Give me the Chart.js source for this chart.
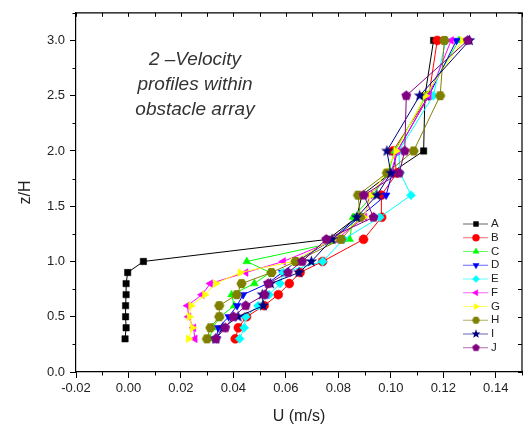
<!DOCTYPE html>
<html>
<head>
<meta charset="utf-8">
<script src="https://cdn.jsdelivr.net/npm/chart.js@4/dist/chart.umd.min.js"></script>
<style>
  html, body { margin: 0; padding: 0; background: #fff; }
  #wrap { position: relative; width: 527px; height: 426px; }
  #grafico { display: block; }
  #nota {
    position: absolute; left: 95px; top: 46px; width: 200px;
    text-align: center; font: italic 19px "Liberation Sans", Arial, sans-serif;
    line-height: 25px; color: #333;
  }
</style>
</head>
<body>
<div id="wrap">
  <canvas id="grafico" width="527" height="426"></canvas>
  <div id="nota">2 –Velocity<br>profiles within<br>obstacle array</div>
</div>
<script>
// niveles z/H (comunes a todas las series)
const zH = [0.3, 0.4, 0.5, 0.6, 0.7, 0.8, 0.9, 1.0, 1.2, 1.4, 1.6, 1.8, 2.0, 2.5, 3.0];

// U (m/s) por serie
const serieA = [-0.0013, -0.0009, -0.0011, -0.0011, -0.0009, -0.0009, -0.0003, 0.0057, 0.076, 0.087, 0.089, 0.100, 0.1125, 0.113, 0.1163];
const serieB = [0.0407, 0.0419, 0.045, 0.0517, 0.0571, 0.0613, 0.0654, 0.074, 0.0896, 0.0965, 0.0964, 0.1023, 0.1008, 0.1145, 0.1177];
const serieC = [0.031, 0.032, 0.035, 0.0403, 0.0393, 0.048, 0.054, 0.0451, 0.0843, 0.0856, 0.0932, 0.099, 0.1015, 0.1135, 0.126];
const serieD = [0.0335, 0.0342, 0.0382, 0.0414, 0.0437, 0.053, 0.0586, 0.064, 0.078, 0.088, 0.0982, 0.1005, 0.1025, 0.1145, 0.125];
const serieE = [0.0424, 0.0441, 0.0447, 0.0494, 0.0536, 0.0578, 0.059, 0.074, 0.082, 0.0958, 0.1077, 0.1036, 0.103, 0.1162, 0.121];
const serieF = [0.0253, 0.0248, 0.0229, 0.0225, 0.028, 0.0312, 0.0447, 0.059, 0.0792, 0.090, 0.092, 0.100, 0.1025, 0.1145, 0.123];
const serieG = [0.0229, 0.0244, 0.0232, 0.0238, 0.0291, 0.0333, 0.0426, 0.0628, 0.078, 0.0897, 0.0925, 0.0979, 0.102, 0.1131, 0.1274];
const serieH = [0.0299, 0.0312, 0.0346, 0.0346, 0.0413, 0.0431, 0.0545, 0.0637, 0.0811, 0.0884, 0.0875, 0.0985, 0.1087, 0.1188, 0.1204];
const serieI = [0.0333, 0.036, 0.0418, 0.0514, 0.051, 0.0542, 0.065, 0.0697, 0.0776, 0.087, 0.0947, 0.100, 0.0985, 0.111, 0.130];
const serieJ = [0.0333, 0.0369, 0.040, 0.0447, 0.052, 0.0533, 0.0608, 0.0662, 0.0754, 0.0934, 0.0897, 0.1032, 0.1053, 0.1059, 0.1293];

const nombres = ["A", "B", "C", "D", "E", "F", "G", "H", "I", "J"];
const series = [serieA, serieB, serieC, serieD, serieE, serieF, serieG, serieH, serieI, serieJ];
const colores = ["#000000", "#ff0000", "#00ff00", "#0000ff", "#00ffff", "#ff00ff", "#ffff00", "#808000", "#000080", "#800080"];

// marcadores que Chart.js no trae (hexágono, estrella rellena, pentágono)
function marcadorPoligono(lados, color, r, giro) {
  const c = document.createElement("canvas");
  c.width = c.height = Math.ceil(2 * r + 2);
  const ctx = c.getContext("2d");
  ctx.fillStyle = color;
  ctx.beginPath();
  for (let k = 0; k < lados; k++) {
    const a = giro + k * 2 * Math.PI / lados;
    ctx.lineTo(c.width / 2 + r * Math.cos(a), c.height / 2 + r * Math.sin(a));
  }
  ctx.closePath();
  ctx.fill();
  return c;
}
function marcadorEstrella(color, r) {
  const c = document.createElement("canvas");
  c.width = c.height = Math.ceil(2 * r + 2);
  const ctx = c.getContext("2d");
  ctx.fillStyle = color;
  ctx.beginPath();
  for (let k = 0; k < 10; k++) {
    const a = -Math.PI / 2 + k * Math.PI / 5;
    const rr = k % 2 ? r * 0.42 : r;
    ctx.lineTo(c.width / 2 + rr * Math.cos(a), c.height / 2 + rr * Math.sin(a));
  }
  ctx.closePath();
  ctx.fill();
  return c;
}

function estilos(r) {
  return [
    { pointStyle: "rect", rotation: 0 },
    { pointStyle: "circle", rotation: 0 },
    { pointStyle: "triangle", rotation: 0 },
    { pointStyle: "triangle", rotation: 180 },
    { pointStyle: "rectRot", rotation: 0 },
    { pointStyle: "triangle", rotation: 270 },
    { pointStyle: "triangle", rotation: 90 },
    { pointStyle: marcadorPoligono(6, colores[7], r * 1.15, 0), rotation: 0 },
    { pointStyle: marcadorEstrella(colores[8], r * 1.35), rotation: 0 },
    { pointStyle: marcadorPoligono(5, colores[9], r * 1.15, -Math.PI / 2), rotation: 0 }
  ];
}
const estilosGrafico = estilos(4.5);
const estilosLeyenda = estilos(3.5);

const datasets = series.map((s, i) => ({
  label: nombres[i],
  data: s.map((u, k) => ({ x: u, y: zH[k] })),
  showLine: true,
  borderColor: colores[i],
  backgroundColor: colores[i],
  borderWidth: 1,
  pointBorderColor: colores[i],
  pointBorderWidth: 0.5,
  pointRadius: 4.5,
  pointStyle: estilosGrafico[i].pointStyle,
  rotation: estilosGrafico[i].rotation,
  order: series.length - 1 - i
}));

// ticks menores, ticks del marco superior/derecho, marco y leyenda
const marcoYLeyenda = {
  id: "marcoYLeyenda",
  afterDraw(chart) {
    const { ctx, chartArea: a, scales } = chart;
    const sx = scales.x, sy = scales.y;
    ctx.save();
    ctx.strokeStyle = "#000";
    ctx.lineWidth = 1.2;
    ctx.beginPath();
    ctx.moveTo(a.left, a.top); ctx.lineTo(a.right, a.top); ctx.lineTo(a.right, a.bottom);
    ctx.stroke();
    ctx.lineWidth = 1;
    ctx.beginPath();
    for (let k = 0; k <= 17; k++) {
      const px = Math.round(sx.getPixelForValue(-0.02 + k * 0.01)) + 0.5;
      if (k % 2) { ctx.moveTo(px, a.bottom); ctx.lineTo(px, a.bottom + 3.5); }
      ctx.moveTo(px, a.top); ctx.lineTo(px, a.top + 4);
    }
    for (let k = 0; k <= 13; k++) {
      const py = Math.round(sy.getPixelForValue(k * 0.25)) + 0.5;
      if (k % 2) { ctx.moveTo(a.left, py); ctx.lineTo(a.left - 3.5, py); }
      ctx.moveTo(a.right, py); ctx.lineTo(a.right - 4, py);
    }
    ctx.stroke();

    // leyenda
    const x0 = 463, x1 = 488, xm = 476, xt = 491, y0 = 224, dy = 13.75;
    ctx.font = '11.5px "Liberation Sans", Arial, sans-serif';
    ctx.textBaseline = "middle";
    nombres.forEach((n, i) => {
      const y = y0 + i * dy;
      ctx.globalAlpha = 0.6;
      ctx.strokeStyle = colores[i];
      ctx.lineWidth = 1;
      ctx.beginPath(); ctx.moveTo(x0, y); ctx.lineTo(x1, y); ctx.stroke();
      ctx.globalAlpha = 1;
      ctx.fillStyle = colores[i];
      ctx.lineWidth = 0.5;
      Chart.helpers.drawPoint(ctx, {
        pointStyle: estilosLeyenda[i].pointStyle,
        rotation: estilosLeyenda[i].rotation,
        radius: 3.5, borderWidth: 0.5
      }, xm, y);
      ctx.fillStyle = "#222";
      ctx.fillText(n, xt, y);
    });
    ctx.restore();
  }
};

const fuente = '"Liberation Sans", Arial, sans-serif';
new Chart(document.getElementById("grafico"), {
  type: "scatter",
  data: { datasets },
  options: {
    responsive: false,
    animation: false,
    layout: { padding: { top: 9, right: 2, left: 0, bottom: 0 } },
    plugins: { legend: { display: false }, tooltip: { enabled: false } },
    scales: {
      x: {
        type: "linear", min: -0.02, max: 0.15,
        afterFit: s => { s.height = 54; },
        border: { display: true, color: "#000", width: 1.2 },
        grid: { drawOnChartArea: false, tickLength: 6, tickColor: "#000", tickWidth: 1 },
        ticks: {
          stepSize: 0.02, includeBounds: false, padding: 3, color: "#222",
          font: { family: fuente, size: 13 },
          callback: v => Number(v).toFixed(2)
        },
        title: { display: true, text: "U (m/s)", color: "#222", font: { family: fuente, size: 16 }, padding: { top: 0, bottom: 0 } }
      },
      y: {
        type: "linear", min: 0, max: 3.25,
        afterFit: s => { s.width = 76; },
        border: { display: true, color: "#000", width: 1.2 },
        grid: { drawOnChartArea: false, tickLength: 6, tickColor: "#000", tickWidth: 1 },
        ticks: {
          stepSize: 0.5, includeBounds: false, padding: 5, color: "#222",
          font: { family: fuente, size: 13 },
          callback: v => Number(v).toFixed(1)
        },
        title: { display: true, text: "z/H", color: "#222", font: { family: fuente, size: 16 }, padding: { top: 16, bottom: 0 } }
      }
    }
  },
  plugins: [marcoYLeyenda]
});
</script>
</body>
</html>
